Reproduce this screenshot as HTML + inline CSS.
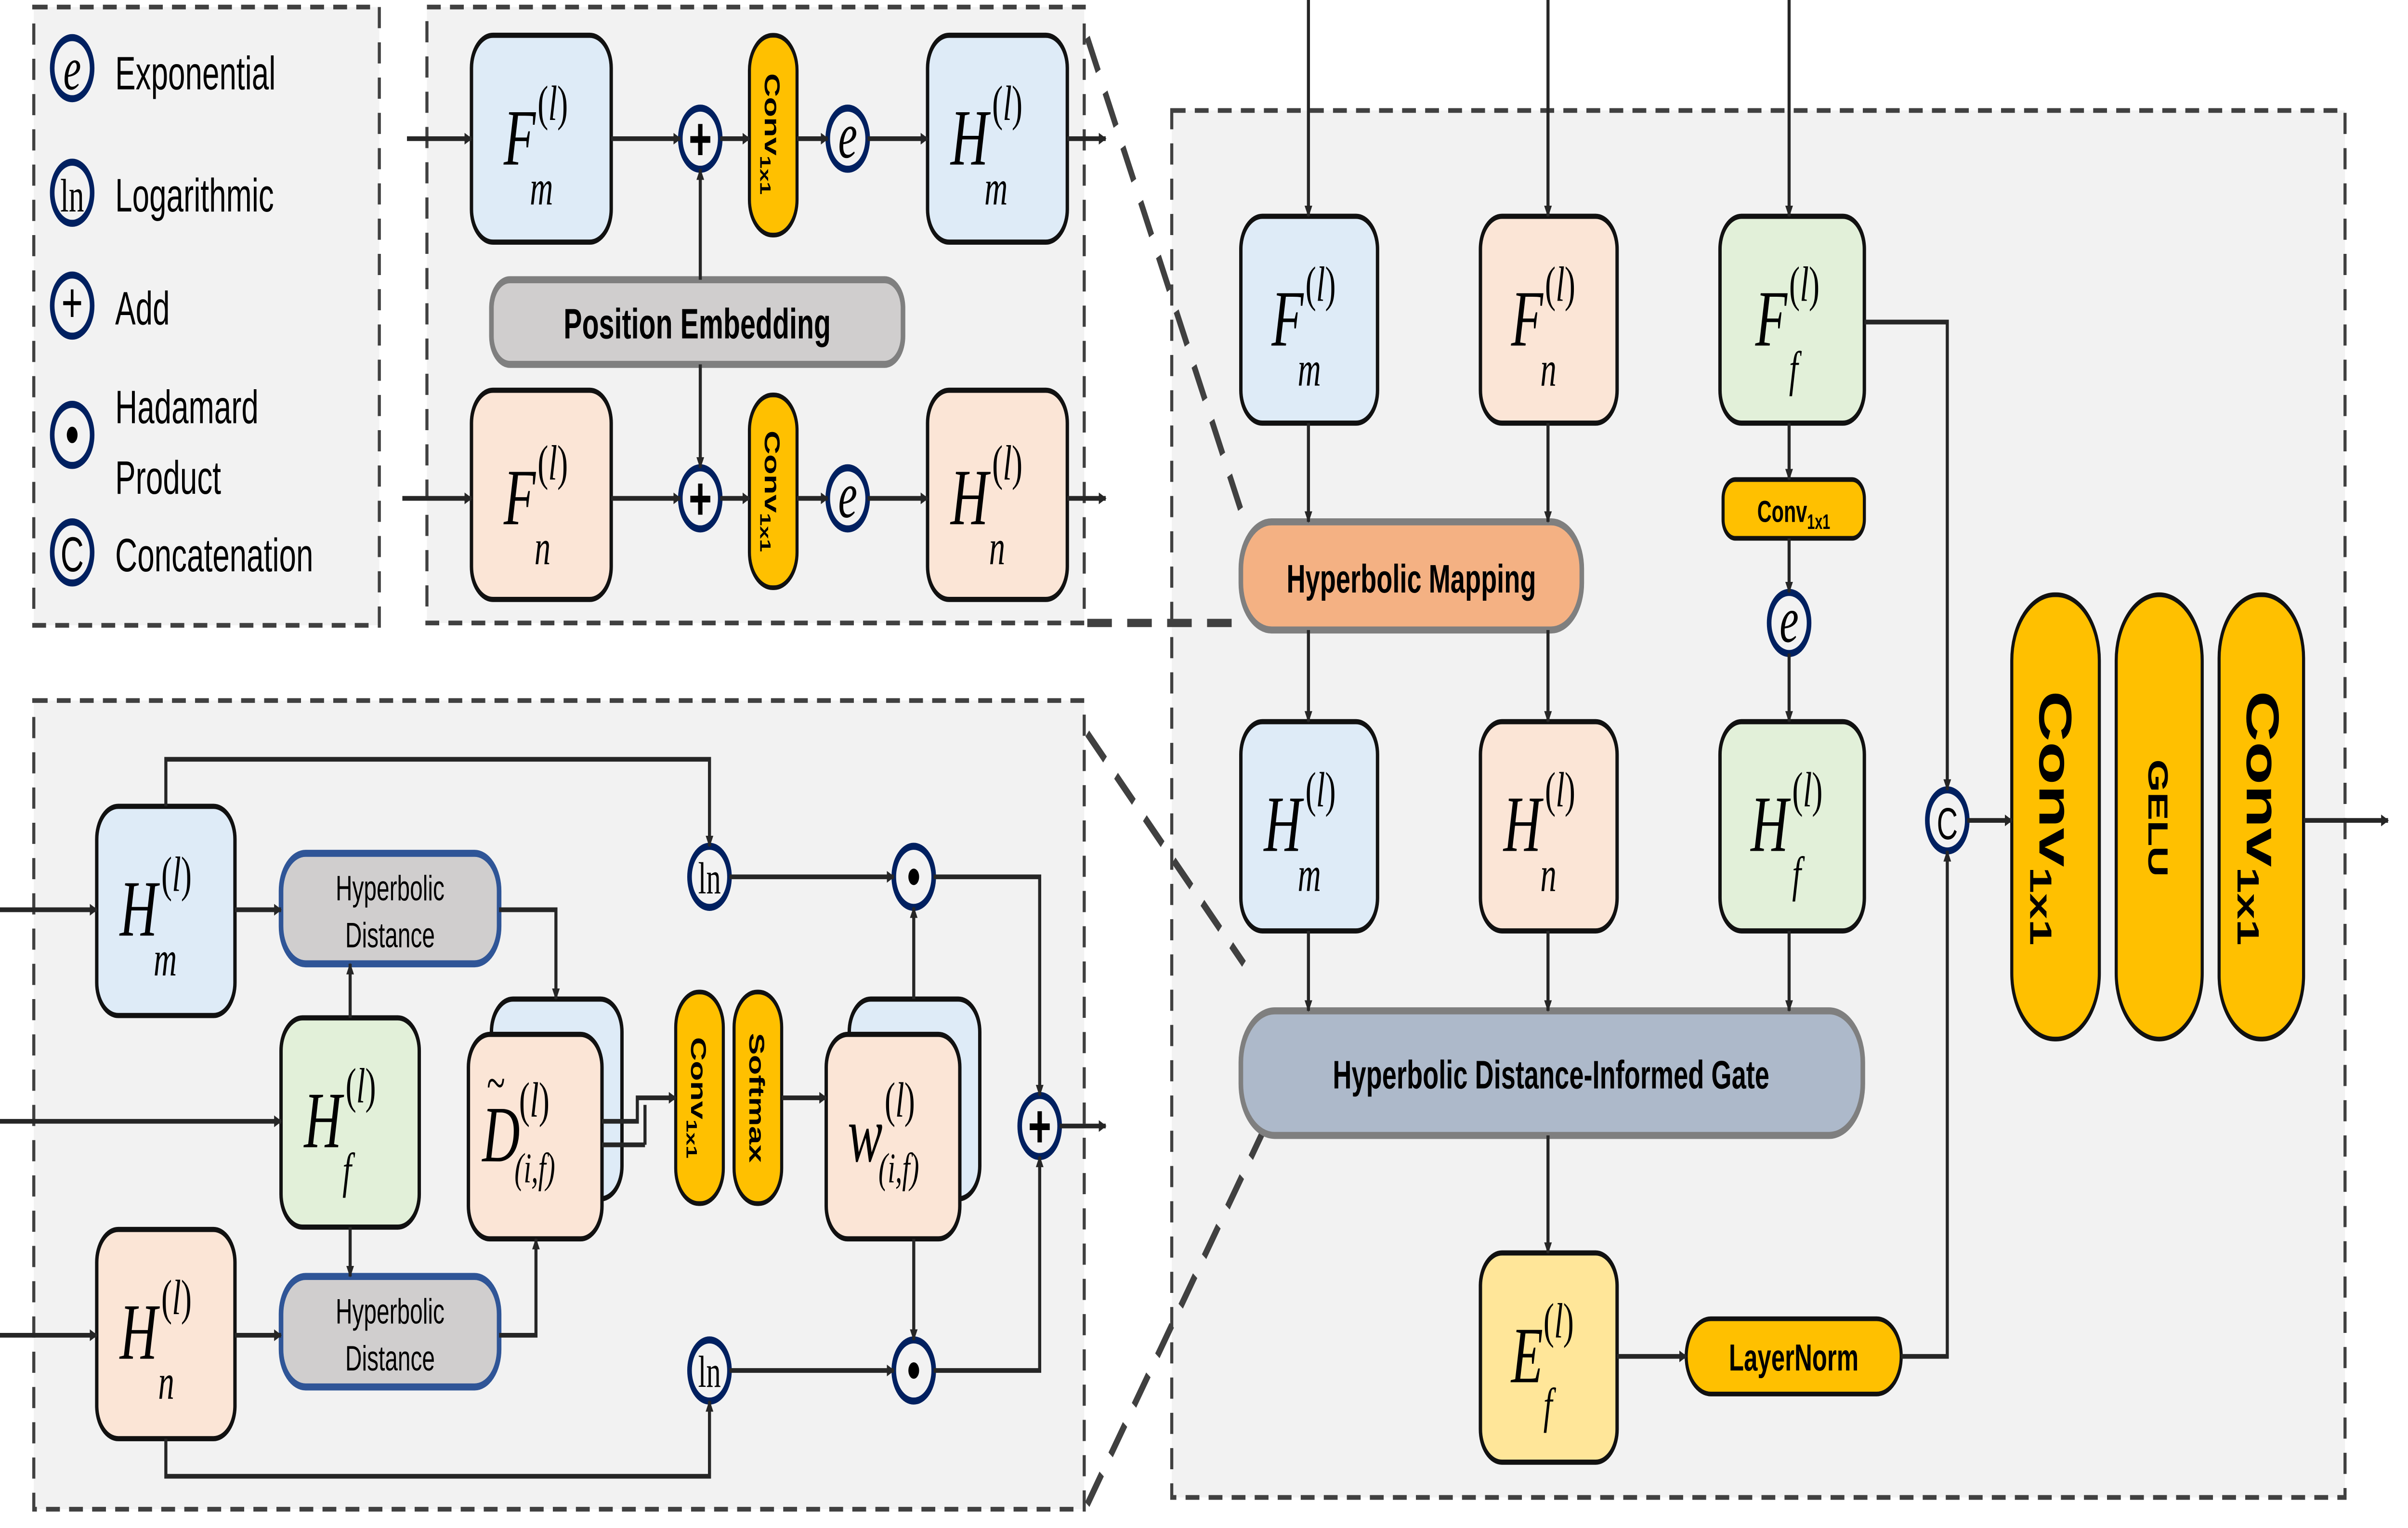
<!DOCTYPE html>
<html><head><meta charset="utf-8"><style>
html,body{margin:0;padding:0;background:#fff;width:100%;height:100%;overflow:hidden;}
svg{display:block;width:100vw;height:100vh;}
.s{font-family:"Liberation Sans",sans-serif;}
.m{font-family:"Liberation Serif",serif;}
</style></head><body>
<svg viewBox="0 0 1568 650" preserveAspectRatio="none" xmlns="http://www.w3.org/2000/svg">
<defs>
<marker id="a" viewBox="0 0 10 10" refX="9" refY="5" markerWidth="5" markerHeight="5" orient="auto" markerUnits="userSpaceOnUse"><path d="M0,0 L10,5 L0,10 z" fill="#262626"/></marker>
</defs>
<rect width="1568" height="650" fill="#fff"/>
<g stroke="#404040" stroke-width="2" stroke-dasharray="9,6" fill="#f2f2f2">
<rect x="22" y="3" width="225" height="263"/>
<rect x="278" y="3" width="428" height="262"/>
<rect x="763" y="47" width="764" height="590"/>
<rect x="22" y="298" width="684" height="344"/>
</g>
<g stroke="#404040" stroke-width="3.5" stroke-dasharray="16,10" fill="none">
<line x1="708" y1="16" x2="812" y2="225"/>
<line x1="708" y1="265" x2="808" y2="265"/>
<line x1="708" y1="312" x2="810" y2="410"/>
<line x1="708" y1="640" x2="822" y2="482"/>
</g>
<g stroke="#002060" stroke-width="3" fill="#f2f2f2">
<circle cx="47" cy="29" r="13"/><circle cx="47" cy="82" r="13"/><circle cx="47" cy="130" r="13"/><circle cx="47" cy="185" r="13"/><circle cx="47" cy="235" r="13"/>
</g>
<g class="m" font-size="26" text-anchor="middle" fill="#000">
<text x="47" y="38" font-style="italic">e</text><text x="47" y="90" font-size="20">ln</text>
</g>
<g class="s" fill="#000">
<text x="40" y="137" font-size="24">+</text>
<circle cx="47" cy="185" r="3.5"/>
<text x="47" y="243" font-size="21" text-anchor="middle">C</text>
<g font-size="20"><text x="75" y="38">Exponential</text><text x="75" y="90">Logarithmic</text><text x="75" y="138">Add</text><text x="75" y="180">Hadamard</text><text x="75" y="210">Product</text><text x="75" y="243">Concatenation</text></g>
</g>
<g stroke="#111" stroke-width="2.2">
<rect x="307" y="15" width="91" height="88" rx="14" fill="#deebf7"/>
<rect x="604" y="15" width="91" height="88" rx="14" fill="#deebf7"/>
<rect x="307" y="166" width="91" height="89" rx="14" fill="#fbe5d6"/>
<rect x="604" y="166" width="91" height="89" rx="14" fill="#fbe5d6"/>
<rect x="808" y="92" width="89" height="88" rx="14" fill="#deebf7"/>
<rect x="964" y="92" width="89" height="88" rx="14" fill="#fbe5d6"/>
<rect x="1120" y="92" width="94" height="88" rx="14" fill="#e2f0d9"/>
<rect x="808" y="307" width="89" height="89" rx="14" fill="#deebf7"/>
<rect x="964" y="307" width="89" height="89" rx="14" fill="#fbe5d6"/>
<rect x="1120" y="307" width="94" height="89" rx="14" fill="#e2f0d9"/>
<rect x="964" y="533" width="89" height="89" rx="14" fill="#ffe699"/>
<rect x="63" y="343" width="90" height="89" rx="14" fill="#deebf7"/>
<rect x="183" y="433" width="90" height="89" rx="14" fill="#e2f0d9"/>
<rect x="63" y="523" width="90" height="89" rx="14" fill="#fbe5d6"/>
<rect x="320" y="425" width="85" height="85" rx="14" fill="#deebf7"/>
<rect x="305" y="440" width="87" height="87" rx="14" fill="#fbe5d6"/>
<rect x="553" y="425" width="85" height="85" rx="14" fill="#deebf7"/>
<rect x="538" y="440" width="87" height="87" rx="14" fill="#fbe5d6"/>
</g>
<g stroke="#111" stroke-width="2" fill="#ffc000">
<rect x="488" y="15" width="31" height="85" rx="15"/>
<rect x="488" y="168" width="31" height="82" rx="15"/>
<rect x="440" y="422" width="31" height="90" rx="15"/>
<rect x="478" y="422" width="31" height="90" rx="15"/>
<rect x="1122" y="204" width="92" height="25" rx="8"/>
<rect x="1098" y="561" width="140" height="32" rx="16"/>
<rect x="1310" y="253" width="57" height="189" rx="28"/>
<rect x="1378" y="253" width="56" height="189" rx="28"/>
<rect x="1445" y="253" width="55" height="189" rx="27"/>
</g>
<g class="s" font-weight="bold" fill="#000">
<text transform="translate(498,57) rotate(90)" text-anchor="middle" font-size="14">Conv<tspan font-size="10" dy="3">1x1</tspan></text>
<text transform="translate(498,209) rotate(90)" text-anchor="middle" font-size="14">Conv<tspan font-size="10" dy="3">1x1</tspan></text>
<text transform="translate(450,467) rotate(90)" text-anchor="middle" font-size="14">Conv<tspan font-size="10" dy="3">1x1</tspan></text>
<text transform="translate(488,467) rotate(90)" text-anchor="middle" font-size="14">Softmax</text>
<text x="1168" y="222" text-anchor="middle" font-size="13">Conv<tspan font-size="9" dy="3">1x1</tspan></text>
<text x="1168" y="583" text-anchor="middle" font-size="16">LayerNorm</text>
<text transform="translate(1328,348) rotate(90)" text-anchor="middle" font-size="30">Conv<tspan font-size="20" dy="6">1x1</tspan></text>
<text transform="translate(1399,348) rotate(90)" text-anchor="middle" font-size="18">GELU</text>
<text transform="translate(1463,348) rotate(90)" text-anchor="middle" font-size="30">Conv<tspan font-size="20" dy="6">1x1</tspan></text>
</g>
<rect x="320" y="119" width="268" height="36" rx="12" fill="#d0cece" stroke="#7f7f7f" stroke-width="3"/>
<text x="454" y="144" class="s" font-weight="bold" font-size="18" text-anchor="middle">Position Embedding</text>
<rect x="808" y="222" width="222" height="46" rx="20" fill="#f4b183" stroke="#7f7f7f" stroke-width="3"/>
<text x="919" y="252" class="s" font-weight="bold" font-size="17" text-anchor="middle">Hyperbolic Mapping</text>
<rect x="808" y="430" width="405" height="53" rx="22" fill="#adb9ca" stroke="#7f7f7f" stroke-width="3"/>
<text x="1010" y="463" class="s" font-weight="bold" font-size="17" text-anchor="middle">Hyperbolic Distance-Informed Gate</text>
<rect x="183" y="363" width="142" height="47" rx="16" fill="#d0cece" stroke="#2f5597" stroke-width="3"/>
<rect x="183" y="543" width="142" height="47" rx="16" fill="#d0cece" stroke="#2f5597" stroke-width="3"/>
<g class="s" font-size="15" text-anchor="middle"><text x="254" y="383">Hyperbolic</text><text x="254" y="403">Distance</text><text x="254" y="563">Hyperbolic</text><text x="254" y="583">Distance</text></g>
<g stroke="#002060" stroke-width="3" fill="#f2f2f2">
<circle cx="456" cy="59" r="13"/><circle cx="552" cy="59" r="13"/><circle cx="456" cy="212" r="13"/><circle cx="552" cy="212" r="13"/>
<circle cx="1165" cy="265" r="13"/><circle cx="1268" cy="349" r="13"/>
<circle cx="462" cy="373" r="13"/><circle cx="462" cy="583" r="13"/><circle cx="595" cy="373" r="13"/><circle cx="595" cy="583" r="13"/><circle cx="677" cy="479" r="13"/>
</g>
<g class="s" font-size="26" font-weight="bold" text-anchor="middle" fill="#000">
<text x="456" y="68">+</text><text x="456" y="221">+</text><text x="677" y="488">+</text>
<text x="1268" y="357" font-size="19" font-weight="normal">C</text>
</g>
<circle cx="595" cy="373" r="3.5"/><circle cx="595" cy="583" r="3.5"/>
<g class="m" font-style="italic" font-size="28" text-anchor="middle">
<text x="552" y="67">e</text><text x="552" y="220">e</text><text x="1165" y="273">e</text>
</g>
<g class="m" font-size="19" text-anchor="middle"><text x="462" y="380">ln</text><text x="462" y="590">ln</text></g>
<g class="m" fill="#000">
<g font-size="34" font-style="italic">
<text x="328" y="70">F</text><text x="619" y="70">H</text><text x="328" y="223">F</text><text x="619" y="223">H</text>
<text x="828" y="147">F</text><text x="984" y="147">F</text><text x="1143" y="147">F</text>
<text x="823" y="362">H</text><text x="979" y="362">H</text><text x="1140" y="362">H</text>
<text x="984" y="588">E</text>
<text x="78" y="398">H</text><text x="198" y="488">H</text><text x="78" y="578">H</text>
<text x="314" y="494">D</text><text x="552" y="494">w</text>
</g>
<g font-size="21">
<text x="350" y="51">(<tspan font-style="italic">l</tspan>)</text><text x="646" y="51">(<tspan font-style="italic">l</tspan>)</text>
<text x="350" y="204">(<tspan font-style="italic">l</tspan>)</text><text x="646" y="204">(<tspan font-style="italic">l</tspan>)</text>
<text x="850" y="128">(<tspan font-style="italic">l</tspan>)</text><text x="1006" y="128">(<tspan font-style="italic">l</tspan>)</text><text x="1165" y="128">(<tspan font-style="italic">l</tspan>)</text>
<text x="850" y="343">(<tspan font-style="italic">l</tspan>)</text><text x="1006" y="343">(<tspan font-style="italic">l</tspan>)</text><text x="1167" y="343">(<tspan font-style="italic">l</tspan>)</text>
<text x="1005" y="569">(<tspan font-style="italic">l</tspan>)</text>
<text x="105" y="379">(<tspan font-style="italic">l</tspan>)</text><text x="225" y="469">(<tspan font-style="italic">l</tspan>)</text><text x="105" y="559">(<tspan font-style="italic">l</tspan>)</text>
<text x="338" y="475">(<tspan font-style="italic">l</tspan>)</text><text x="576" y="475">(<tspan font-style="italic">l</tspan>)</text>
</g>
<g font-size="21" font-style="italic">
<text x="345" y="87">m</text><text x="641" y="87">m</text><text x="348" y="240">n</text><text x="644" y="240">n</text>
<text x="845" y="164">m</text><text x="1003" y="164">n</text><text x="1165" y="164">f</text>
<text x="845" y="379">m</text><text x="1003" y="379">n</text><text x="1167" y="379">f</text>
<text x="1005" y="605">f</text>
<text x="100" y="415">m</text><text x="223" y="505">f</text><text x="103" y="595">n</text>
</g>
<text x="335" y="503" font-size="18" font-style="italic">(i,f)</text>
<text x="572" y="503" font-size="18" font-style="italic">(i,f)</text>
<text x="317" y="468" font-size="22">~</text>
</g>
<g stroke="#262626" stroke-width="2" fill="none" marker-end="url(#a)">
<line x1="265" y1="59" x2="307" y2="59"/><line x1="398" y1="59" x2="443" y2="59"/><line x1="469" y1="59" x2="488" y2="59"/><line x1="519" y1="59" x2="539" y2="59"/><line x1="565" y1="59" x2="604" y2="59"/><line x1="695" y1="59" x2="720" y2="59"/>
<line x1="262" y1="212" x2="307" y2="212"/><line x1="398" y1="212" x2="443" y2="212"/><line x1="469" y1="212" x2="488" y2="212"/><line x1="519" y1="212" x2="539" y2="212"/><line x1="565" y1="212" x2="604" y2="212"/><line x1="695" y1="212" x2="720" y2="212"/>
<line x1="456" y1="119" x2="456" y2="72"/><line x1="456" y1="155" x2="456" y2="199"/>
<line x1="852" y1="0" x2="852" y2="92"/><line x1="1008" y1="0" x2="1008" y2="92"/><line x1="1165" y1="0" x2="1165" y2="92"/>
<line x1="852" y1="180" x2="852" y2="222"/><line x1="1008" y1="180" x2="1008" y2="222"/>
<line x1="852" y1="268" x2="852" y2="307"/><line x1="1008" y1="268" x2="1008" y2="307"/>
<line x1="1165" y1="180" x2="1165" y2="204"/><line x1="1165" y1="229" x2="1165" y2="252"/><line x1="1165" y1="278" x2="1165" y2="307"/>
<line x1="852" y1="396" x2="852" y2="430"/><line x1="1008" y1="396" x2="1008" y2="430"/><line x1="1165" y1="396" x2="1165" y2="430"/>
<line x1="1008" y1="483" x2="1008" y2="533"/><line x1="1053" y1="577" x2="1098" y2="577"/>
<polyline points="1214,137 1268,137 1268,336"/><polyline points="1238,577 1268,577 1268,362"/>
<line x1="1281" y1="349" x2="1310" y2="349"/><line x1="1500" y1="349" x2="1555" y2="349"/>
<line x1="0" y1="387" x2="63" y2="387"/><line x1="0" y1="477" x2="183" y2="477"/><line x1="0" y1="568" x2="63" y2="568"/>
<line x1="153" y1="387" x2="183" y2="387"/><line x1="153" y1="568" x2="183" y2="568"/>
<line x1="228" y1="433" x2="228" y2="410"/><line x1="228" y1="522" x2="228" y2="543"/>
<polyline points="325,387 362,387 362,425"/><polyline points="325,568 349,568 349,527"/>
<polyline points="392,477 415,477 415,467 440,467"/>
<line x1="509" y1="467" x2="538" y2="467"/>
<polyline points="108,343 108,323 462,323 462,360"/><polyline points="108,612 108,628 462,628 462,596"/>
<line x1="475" y1="373" x2="582" y2="373"/><line x1="475" y1="583" x2="582" y2="583"/>
<line x1="595" y1="425" x2="595" y2="386"/><line x1="595" y1="527" x2="595" y2="570"/>
<polyline points="608,373 677,373 677,466"/><polyline points="608,583 677,583 677,492"/>
<line x1="690" y1="479" x2="720" y2="479"/>
</g>
<line x1="392" y1="487" x2="420" y2="487" stroke="#262626" stroke-width="2"/>
<line x1="420" y1="487" x2="420" y2="470" stroke="#262626" stroke-width="2"/>
</svg>
</body></html>
